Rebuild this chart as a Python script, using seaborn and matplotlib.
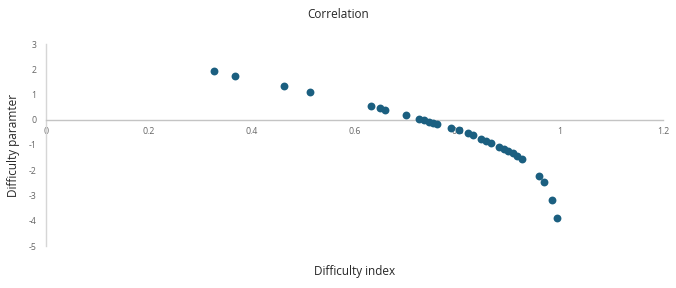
import matplotlib
matplotlib.use("Agg")
import matplotlib.pyplot as plt
import seaborn as sns
import pandas as pd

difficulty_index = [0.326, 0.368, 0.462, 0.514, 0.633, 0.650, 0.659, 0.701, 0.726, 0.735,
                    0.744, 0.752, 0.761, 0.787, 0.804, 0.821, 0.830, 0.847, 0.856, 0.865,
                    0.881, 0.890, 0.899, 0.908, 0.916, 0.925, 0.958, 0.968, 0.984, 0.993]
difficulty_param = [1.95, 1.75, 1.32, 1.08, 0.53, 0.45, 0.40, 0.19, 0.04, -0.01,
                    -0.07, -0.11, -0.16, -0.32, -0.42, -0.54, -0.62, -0.75, -0.83, -0.91,
                    -1.06, -1.14, -1.23, -1.33, -1.45, -1.57, -2.22, -2.47, -3.18, -3.89]
x_ticks = [0, 0.2, 0.4, 0.6, 0.8, 1, 1.2]
x_tick_labels = ["0", "0.2", "0.4", "0.6", "0.8", "1", "1.2"]
y_ticks = [3, 2, 1, 0, -1, -2, -3, -4, -5]

sns.set_style("white")
plt.rcParams["font.family"] = ["Open Sans", "DejaVu Sans"]

df = pd.DataFrame({"Difficulty index": difficulty_index, "Difficulty paramter": difficulty_param})

fig = plt.figure(figsize=(6.76, 2.88), dpi=100)
ax = fig.add_axes([46/676, 42/288, (663-46)/676, 202/288])
sns.scatterplot(data=df, x="Difficulty index", y="Difficulty paramter", ax=ax,
                color="#1B5F80", s=32, linewidth=0, zorder=3)

ax.set_xlim(0, 1.2)
ax.set_ylim(-5, 3)
ax.set_xticks(x_ticks)
ax.set_xticklabels(x_tick_labels)
ax.set_yticks(y_ticks)
ax.set_yticklabels([str(v) for v in y_ticks])

for side in ["top", "right"]:
    ax.spines[side].set_visible(False)
ax.spines["bottom"].set_position(("data", 0))
ax.spines["bottom"].set_color("#c4c4c4")
ax.spines["left"].set_color("#d6d6d6")
ax.spines["bottom"].set_linewidth(1.0)
ax.spines["left"].set_linewidth(1.0)
ax.tick_params(axis="x", which="major", length=3, width=0.8, color="#c4c4c4",
               labelsize=6.3, labelcolor="#666666", direction="out", pad=2)
ax.tick_params(axis="y", which="major", length=3, width=0.8, color="#d6d6d6",
               labelsize=6.3, labelcolor="#666666", direction="out", pad=4)
ax.set_xlabel("")
ax.set_ylabel("")
ax.grid(False)

fig.text(338/676, 1 - 14/288, "Correlation", ha="center", va="center", fontsize=8.5, color="#262626")
fig.text(355/676, 1 - 272/288, "Difficulty index", ha="center", va="center", fontsize=8.5, color="#262626")
fig.text(14/676, 1 - 145/288, "Difficulty paramter", ha="center", va="center", rotation=90,
         fontsize=8.5, color="#262626")

fig.savefig("out.png", dpi=100, facecolor="white")
